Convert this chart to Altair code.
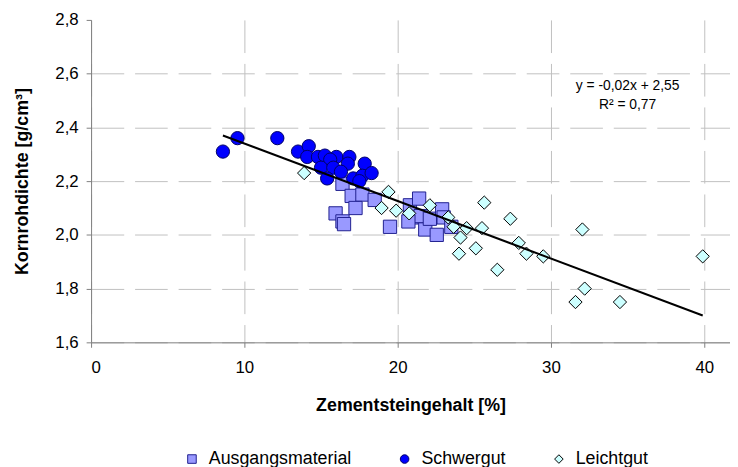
import altair as alt
import pandas as pd

FONT = "Liberation Sans"

series_names = ["Ausgangsmaterial", "Schwergut", "Leichtgut"]
series_fill = ["#9999ff", "#0000ff", "#ccffff"]
series_stroke = ["#202090", "#000066", "#000000"]
series_shape = ["square", "circle", "diamond"]

# Ausgangsmaterial
aus_x = [16.4, 17.0, 17.7, 18.5, 17.25, 15.95, 16.4, 16.5, 19.5, 20.8,
         21.4, 20.9, 21.5, 21.8, 22.55, 22.1, 22.9, 23.0, 23.5, 20.7]
aus_y = [2.19, 2.145, 2.15, 2.13, 2.10, 2.08, 2.05, 2.04, 2.03, 2.11,
         2.135, 2.065, 2.07, 2.02, 2.00, 2.06, 2.095, 2.065, 2.03, 2.05]

# Schwergut
sch_x = [8.6, 9.55, 12.15, 13.5, 14.2, 14.1, 14.8, 15.25, 16.0, 16.85, 15.6,
         15.0, 15.8, 16.75, 15.4, 16.3, 17.1, 17.85, 17.7, 18.3, 17.5]
sch_y = [2.31, 2.36, 2.36, 2.31, 2.33, 2.29, 2.29, 2.295, 2.29, 2.29, 2.28,
         2.25, 2.25, 2.265, 2.21, 2.235, 2.21, 2.265, 2.22, 2.23, 2.20]

# Leichtgut
lei_x = [13.9, 19.4, 18.95, 19.9, 20.75, 22.1, 23.3, 23.65, 24.1, 24.5, 25.5, 25.1,
         24.0, 25.65, 27.35, 27.9, 28.4, 29.5, 26.5, 32.05, 32.2, 31.6, 34.5, 39.9]
lei_y = [2.23, 2.16, 2.10, 2.09, 2.08, 2.11, 2.065, 2.03, 1.99, 2.025, 2.025, 1.95,
         1.93, 2.12, 2.06, 1.97, 1.93, 1.92, 1.87, 2.02, 1.80, 1.75, 1.75, 1.92]

# Trendline endpoints
trend_x = [8.6, 39.9]
trend_y = [2.37, 1.70]

# Annotation
ann_text = ["y = -0,02x + 2,55", "R² = 0,77"]
ann_x = [35.0, 35.0]
ann_y = [2.555, 2.482]

x_ticks = [0, 10, 20, 30, 40]
y_ticks = [1.6, 1.8, 2.0, 2.2, 2.4, 2.6, 2.8]

rows = []
for name, xs, ys in zip(series_names, [aus_x, sch_x, lei_x], [aus_y, sch_y, lei_y]):
    for a, b in zip(xs, ys):
        rows.append({"Serie": name, "x": a, "y": b})
df = pd.DataFrame(rows)
df_trend = pd.DataFrame({"x": trend_x, "y": trend_y})
df_ann = pd.DataFrame({"x": ann_x, "y": ann_y, "t": ann_text})

x_scale = alt.Scale(domain=[0, 41.68], nice=False, zero=False)
y_scale = alt.Scale(domain=[1.6, 2.8], nice=False, zero=False)

x_axis = alt.Axis(values=x_ticks, title="Zementsteingehalt [%]", titlePadding=22,
                  labelPadding=12, tickSize=5)
y_axis = alt.Axis(values=y_ticks, title="Kornrohdichte [g/cm³]", titlePadding=24,
                  labelPadding=8, tickSize=5,
                  labelExpr="replace(format(datum.value, '.1f'), '.', ',')",
                  gridOpacity={"condition": {"test": "datum.value > 2.75", "value": 0}, "value": 1})

legend = alt.Legend(title=None, orient="none", legendX=93, legendY=435, direction="horizontal",
                    labelFont=FONT, labelFontSize=18, labelColor="black", symbolSize=75,
                    symbolStrokeWidth=1, columnPadding=44, labelOffset=8, padding=0)

points = alt.Chart(df).mark_point(filled=True, opacity=1, strokeWidth=1, size=180).encode(
    x=alt.X("x:Q", scale=x_scale, axis=x_axis),
    y=alt.Y("y:Q", scale=y_scale, axis=y_axis),
    fill=alt.Fill("Serie:N", scale=alt.Scale(domain=series_names, range=series_fill), legend=legend),
    stroke=alt.Stroke("Serie:N", scale=alt.Scale(domain=series_names, range=series_stroke), legend=legend),
    shape=alt.Shape("Serie:N", scale=alt.Scale(domain=series_names, range=series_shape), legend=legend),
)

trend = alt.Chart(df_trend).mark_line(color="black", strokeWidth=2).encode(
    x=alt.X("x:Q", scale=x_scale),
    y=alt.Y("y:Q", scale=y_scale),
)

ann = alt.Chart(df_ann).mark_text(font=FONT, fontSize=14, color="black", align="center",
                                  baseline="middle").encode(
    x=alt.X("x:Q", scale=x_scale),
    y=alt.Y("y:Q", scale=y_scale),
    text="t:N",
)

chart = alt.layer(points, trend, ann).properties(
    width=646, height=326,
    autosize=alt.AutoSizeParams(type="none"),
    padding={"left": 84, "top": 9.5, "right": 0, "bottom": 124},
).configure_view(stroke=None).configure_axis(
    domainColor="#808080", tickColor="#808080", gridColor="#c0c0c0", gridDash=[33, 11],
    labelFont=FONT, labelFontSize=17, labelColor="black",
    titleFont=FONT, titleFontSize=18, titleFontWeight="bold", titleColor="black",
)

chart.save("out.html", embed_options={"renderer": "svg", "actions": False})
